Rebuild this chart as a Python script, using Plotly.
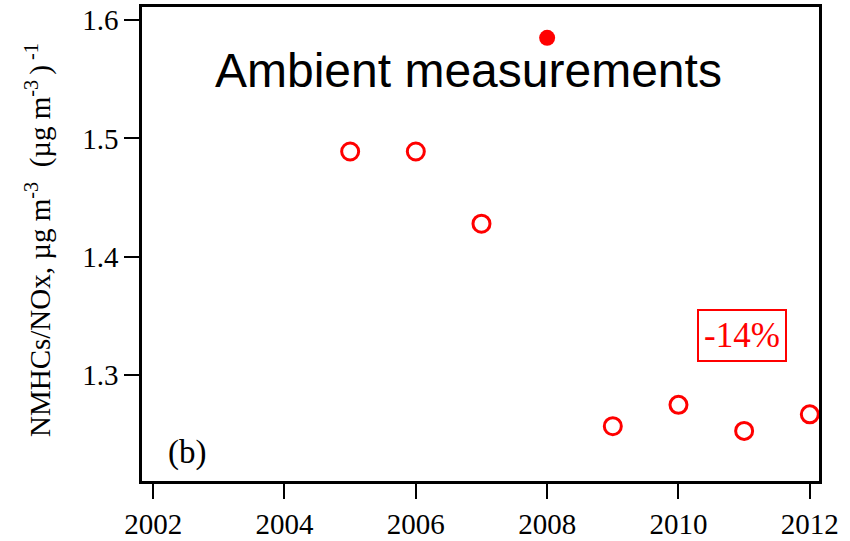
import plotly.graph_objects as go

# Data
years_open = [2005, 2006, 2007, 2009, 2010, 2011, 2012]
ratio_open = [1.489, 1.489, 1.428, 1.257, 1.275, 1.253, 1.267]
years_filled = [2008]
ratio_filled = [1.585]

x_ticks = [2002, 2004, 2006, 2008, 2010, 2012]
y_ticks = [1.3, 1.4, 1.5, 1.6]

RED = "#ff0000"
SERIF = "Liberation Serif, Times New Roman, serif"
SANS = "Liberation Sans, Arial, sans-serif"

fig = go.Figure()
fig.add_trace(go.Scatter(
    x=years_open, y=ratio_open, mode="markers",
    marker=dict(symbol="circle-open", size=17, color=RED, line=dict(width=3, color=RED)),
    showlegend=False, cliponaxis=False,
))
fig.add_trace(go.Scatter(
    x=years_filled, y=ratio_filled, mode="markers",
    marker=dict(symbol="circle", size=16, color=RED),
    showlegend=False, cliponaxis=False,
))

axis_common = dict(
    showline=True, linecolor="black", linewidth=2.5, mirror=True,
    ticks="outside", ticklen=15, tickwidth=2, tickcolor="black",
    showgrid=False, zeroline=False, automargin=False,
    tickfont=dict(family=SERIF, size=29, color="black"),
)

fig.update_layout(
    width=850, height=541,
    margin=dict(l=142, r=31, t=7, b=60),
    paper_bgcolor="white", plot_bgcolor="white",
    xaxis=dict(range=[2001.83, 2012.14], tickvals=x_ticks,
               ticktext=[str(v) for v in x_ticks], **axis_common),
    yaxis=dict(range=[1.2107, 1.611], tickvals=y_ticks,
               ticktext=[f"{v:.1f}" for v in y_ticks], **axis_common),
    annotations=[
        dict(text="Ambient measurements", xref="paper", yref="paper",
             x=(468 - 142) / 677, y=(481 - 70) / 474, xanchor="center", yanchor="middle",
             showarrow=False, font=dict(family=SANS, size=48, color="black")),
        dict(text="(b)", xref="paper", yref="paper",
             x=(187 - 142) / 677, y=(481 - 452) / 474, xanchor="center", yanchor="middle",
             showarrow=False, font=dict(family=SERIF, size=33, color="black")),
        dict(text="-14%", xref="paper", yref="paper",
             x=(742 - 142) / 677, y=(481 - 335) / 474, xanchor="center", yanchor="middle",
             showarrow=False, font=dict(family=SERIF, size=35, color=RED),
             bordercolor=RED, borderwidth=2, borderpad=5, bgcolor="white"),
        dict(text="NMHCs/NOx, µg m<sup>-3</sup>  (µg m<sup>-3 </sup>)<sup> -1</sup>",
             xref="paper", yref="paper", textangle=-90,
             x=(38 - 142) / 677, y=(481 - 240) / 474, xanchor="center", yanchor="middle",
             showarrow=False, font=dict(family=SERIF, size=29, color="black")),
    ],
)

fig.write_html("out.html")
